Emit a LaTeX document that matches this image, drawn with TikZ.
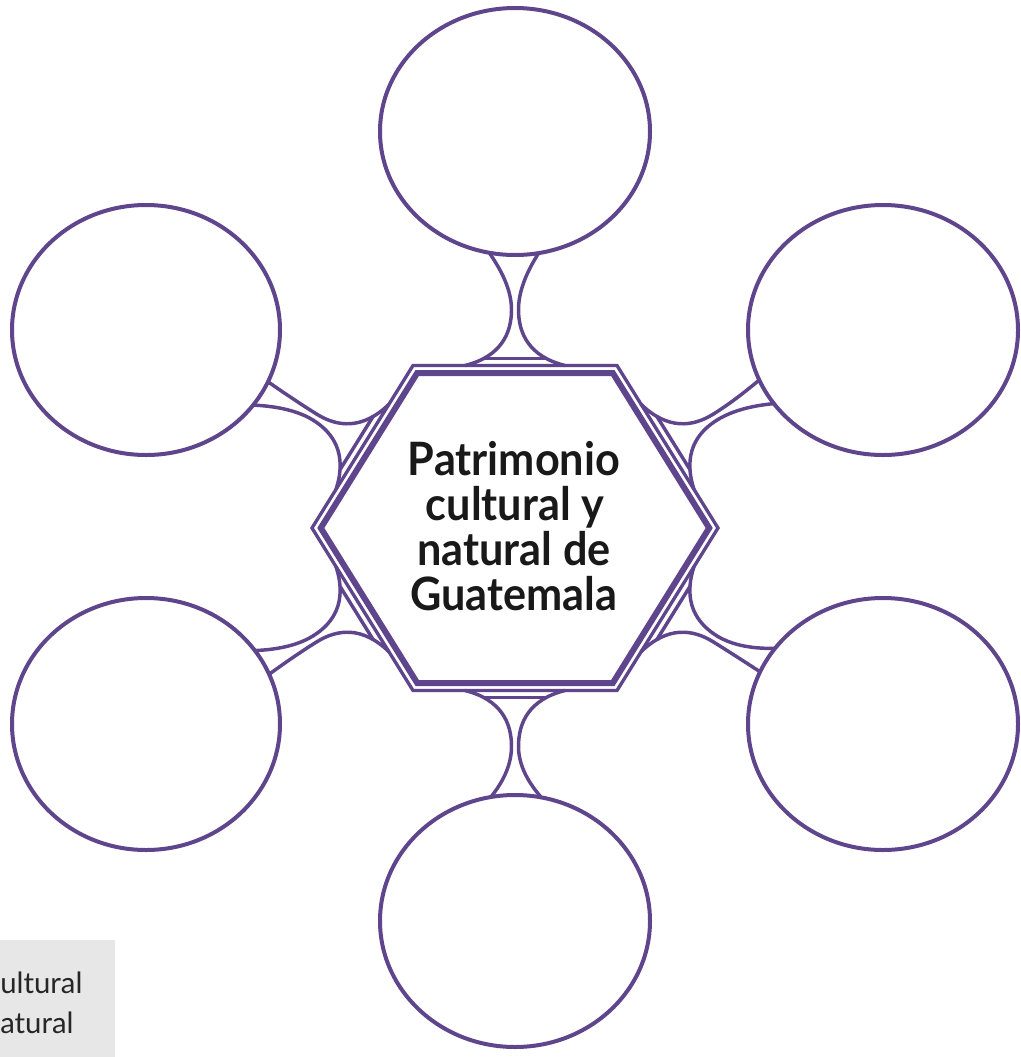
\documentclass[tikz,border=0pt]{standalone}
\usepackage{fontspec}
\usetikzlibrary{shapes.geometric,calc}
\newfontfamily\hexfont{Lato}[FakeStretch=0.94]
\newfontfamily\boxfont{Lato}
\definecolor{pur}{RGB}{94,69,140}
\definecolor{boxgray}{RGB}{231,231,232}
\tikzset{
  circ/.style={draw=pur, line width=3pt, ellipse, inner sep=0pt, outer sep=0pt,
    minimum width=202pt, minimum height=187pt},
  conn/.style={draw=pur, line width=2.6pt, line cap=round, line join=round},
  hexout/.style={draw=pur, line width=2.5pt},
  hexin/.style={draw=pur, line width=4.5pt},
  ctext/.style={anchor=base, inner sep=0pt, text=black!90,
    font=\hexfont\bfseries\fontsize{34.5pt}{40pt}\selectfont},
  btext/.style={anchor=base west, inner sep=0pt, text=black!85,
    font=\boxfont\fontsize{22pt}{26pt}\selectfont},
}
% #1 prefix, #2 edge midpoint, #3 rotation, #4 circle node, #5 angle (u-), #6 angle (u+)
\newcommand\hexbridge[6]{%
  \begin{scope}[shift={#2},rotate=#3]
    \coordinate (#1al) at (-50,0);
    \coordinate (#1ar) at (50,0);
    \coordinate (#1nl) at (-3.5,-56);
    \coordinate (#1nr) at (3.5,-56);
    \coordinate (#1ml) at (-3.5,-80);
    \coordinate (#1mr) at (3.5,-80);
    \coordinate (#1bl) at (-31,-7);
    \coordinate (#1br) at (31,-7);
    \draw[conn] (#1al) .. controls (-14,-9) and (-3.5,-32) .. (#1nl);
    \draw[conn] (#1ar) .. controls (14,-9) and (3.5,-32) .. (#1nr);
    \draw[conn] (#1bl) -- (#1br);
  \end{scope}
  \draw[conn] (#1nl) .. controls (#1ml) and ($(#4.#5)!0.3!(#1ml)$) .. (#4.#5);
  \draw[conn] (#1nr) .. controls (#1mr) and ($(#4.#6)!0.3!(#1mr)$) .. (#4.#6);
}
\begin{document}
\begin{tikzpicture}[x=0.75pt, y=-0.75pt]
\useasboundingbox (0,0) rectangle (1021,1057);
\fill[white] (0,0) rectangle (1021,1057);

% grey box with text cut at the page edge
\fill[boxgray] (0,940) rectangle (115,1057);
\begin{scope}
  \clip (0,940) rectangle (115,1057);
  \node[btext] (b1) at (0,993) {\llap{c}ultural};
  \node[btext] (b2) at (0,1033) {\llap{n}atural};
\end{scope}

% circles
\node[circ, minimum width=202.5pt, minimum height=185.25pt] (c1) at (515,131.5) {};
\node[circ, minimum width=201pt, minimum height=187.5pt] (c2) at (146,330) {};
\node[circ, minimum width=202.5pt, minimum height=187.5pt] (c3) at (883,330) {};
\node[circ, minimum width=201pt, minimum height=189pt] (c4) at (146,724) {};
\node[circ, minimum width=202.5pt, minimum height=189pt] (c5) at (883,724) {};
\node[circ, minimum width=202.5pt, minimum height=189pt] (c6) at (515,921) {};

% connectors
\hexbridge{k1}{(515,365.5)}{0}{c1}{258.5}{281.5}
\hexbridge{k2}{(362.5,446.75)}{58.1}{c2}{325.6}{337.2}
\hexbridge{k3}{(667.5,446.75)}{-58.1}{c3}{202.8}{214.4}
\hexbridge{k4}{(362.5,609.25)}{121.9}{c4}{22.8}{34.4}
\hexbridge{k5}{(667.5,609.25)}{-121.9}{c5}{145.6}{157.2}
\hexbridge{k6}{(515,690.5)}{180}{c6}{78.5}{101.5}

% hexagon
\draw[hexout] (312,528) -- (413,365.5) -- (617,365.5) -- (718,528) -- (617,690.5) -- (413,690.5) -- cycle;
\draw[hexin] (320.8,528) -- (417.2,373) -- (612.8,373) -- (709.2,528) -- (612.8,683) -- (417.2,683) -- cycle;

% centre text
\node[ctext] (t1) at (514,475) {Patrimonio};
\node[ctext] (t2) at (515,520) {cultural y};
\node[ctext] (t3) at (514,565) {natural de};
\node[ctext] (t4) at (514,610) {Guatemala};
\end{tikzpicture}
\end{document}
